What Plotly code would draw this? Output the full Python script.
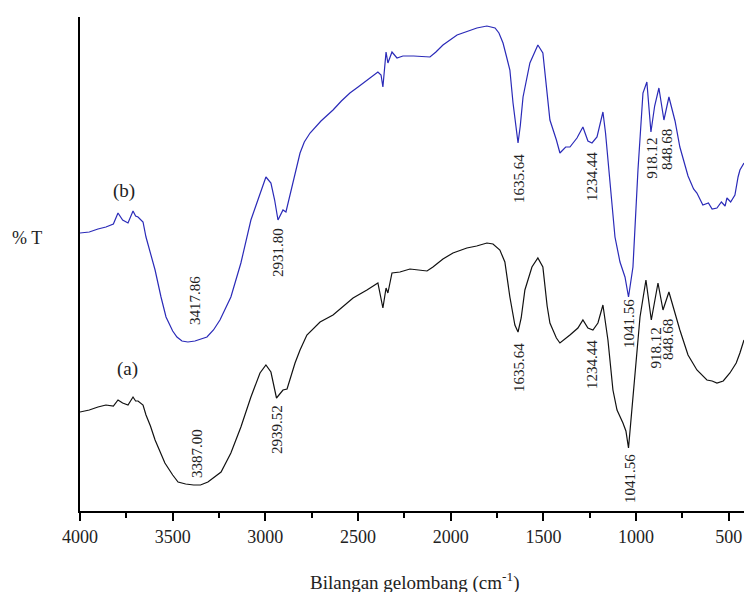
import plotly.graph_objects as go

# ---- data (wavenumber cm^-1, %T arbitrary) ----
wn_b = [4000, 3950, 3903, 3860, 3820, 3795, 3770, 3741, 3714, 3700, 3687, 3660, 3644, 3620,
        3595, 3563, 3536, 3500, 3477, 3450, 3418, 3380, 3340, 3315, 3280,
        3245, 3186, 3132, 3078, 3029, 2997, 2970, 2950, 2932, 2905, 2889, 2862, 2835, 2813, 2790,
        2759, 2700, 2635, 2590, 2544, 2500, 2452, 2393, 2376, 2366, 2349, 2339, 2317, 2290, 2258,
        2200, 2112, 2080, 2042, 2000, 1966, 1920,
        1859, 1805, 1761, 1740, 1718, 1700, 1681, 1664, 1637, 1625, 1610, 1573, 1530, 1503, 1480,
        1465, 1430, 1411, 1380, 1357,
        1319, 1287, 1260, 1238, 1211, 1179, 1165, 1152, 1130, 1114, 1087, 1060, 1041, 1017, 990,
        963, 942, 920, 900, 877, 850, 823, 790, 764, 720, 690, 672, 640, 610, 590, 564, 540, 520,
        510, 490, 467, 450, 440, 418]
t_b = [55.6, 55.8, 56.4, 56.8, 57.4, 59.6, 58.2, 57.6, 60.0, 59.0, 58.8, 57.8, 54.8, 51.8,
       48.2, 42.8, 38.8, 36.0, 34.8, 34.0, 33.8, 34.0, 34.4, 34.8, 36.2,
       38.2, 42.8, 49.6, 58.2, 63.6, 66.8, 65.6, 62.2, 58.2, 60.2, 59.8, 64.2, 68.2, 71.6, 73.8,
       75.6, 78.0, 80.2, 82.0, 83.6, 84.8, 86.2, 87.8, 87.2, 84.8, 91.8, 89.6, 91.8, 90.6, 91.0,
       91.0, 90.8, 91.8, 93.2, 94.4, 95.2, 95.8,
       96.6, 97.0, 96.6, 95.6, 93.6, 91.0, 88.2, 81.6, 73.6, 77.0, 82.8, 89.6, 93.2, 91.6, 84.0,
       78.2, 74.2, 71.6, 72.8, 72.8,
       74.6, 76.8, 74.0, 73.6, 74.8, 79.8, 75.6, 70.2, 62.0, 54.8, 49.8, 46.8, 42.8, 48.8, 68.2,
       83.6, 85.8, 75.8, 81.0, 84.6, 78.2, 82.8, 78.0, 72.8, 67.0, 64.4, 63.6, 61.2, 61.6, 60.4,
       60.6, 61.8, 61.0, 62.6, 61.8, 63.2, 66.8, 68.2, 69.6]

wn_a = [4000, 3950, 3903, 3860, 3820, 3795, 3770, 3741, 3714, 3700, 3687, 3660, 3644, 3620,
        3595, 3542, 3500, 3471, 3430, 3387, 3350, 3310, 3239,
        3186, 3132, 3078, 3029, 2997, 2970, 2955, 2940, 2905, 2883, 2840, 2813, 2776, 2705, 2635,
        2580, 2527, 2452, 2393, 2366, 2349, 2339, 2317, 2274, 2220, 2128, 2096, 2042, 1988, 1913,
        1860, 1805, 1772, 1735, 1708, 1681, 1654, 1637, 1620, 1600, 1562, 1530, 1503, 1480, 1465,
        1430, 1411, 1357,
        1314, 1287, 1260, 1233, 1206, 1179, 1165, 1152, 1125, 1103, 1071, 1055, 1041, 1017, 979,
        947, 918, 882, 855, 823, 790, 764, 720, 672, 618, 590, 564, 530, 494, 460, 440, 418]
t_a = [19.8, 20.2, 20.8, 21.2, 21.0, 22.2, 21.6, 21.2, 22.8, 22.0, 22.0, 21.2, 19.2, 17.0,
       14.2, 9.6, 7.2, 5.8, 5.4, 5.2, 5.2, 5.8, 7.8,
       11.6, 16.8, 22.8, 27.6, 29.2, 27.8, 25.2, 22.6, 24.2, 24.4, 29.6, 32.2, 35.2, 37.8, 39.2,
       41.0, 42.6, 44.2, 45.6, 40.6, 44.6, 43.6, 47.6, 47.8, 48.4, 48.0, 48.8, 50.4, 51.6, 52.6,
       53.0, 53.6, 53.4, 52.2, 49.8, 42.8, 37.2, 35.8, 38.6, 44.2, 48.8, 50.6, 48.8, 41.0, 37.6,
       34.6, 33.6, 35.2,
       36.6, 38.2, 36.6, 36.2, 37.6, 41.2, 37.6, 34.2, 24.2, 20.2, 17.6, 16.0, 12.6, 22.2, 38.8,
       46.2, 38.2, 45.6, 40.2, 43.8, 39.6, 36.2, 31.2, 28.2, 26.2, 26.0, 25.6, 26.0, 27.6, 29.6,
       31.6, 34.2]

peak_labels_b = ["3417.86", "2931.80", "1635.64", "1234.44", "1041.56", "918.12", "848.68"]
peak_labels_a = ["3387.00", "2939.52", "1635.64", "1234.44", "1041.56", "918.12", "848.68"]

# label centre positions (x in cm^-1, y in %T units)
pos_b_x = [3380, 2932, 1632, 1238, 1039, 915, 834]
pos_b_y = [42.2, 51.8, 66.6, 66.8, 37.6, 70.6, 72.4]
pos_a_x = [3369, 2937, 1632, 1238, 1033, 895, 828]
pos_a_y = [11.6, 16.2, 28.8, 29.2, 6.4, 32.6, 34.2]

tick_vals = [4000, 3500, 3000, 2500, 2000, 1500, 1000, 500]
tick_text = ["4000", "3500", "3000", "2500", "2000", "1500", "1000", "500"]

FONT = "Liberation Serif"

fig = go.Figure()
fig.add_trace(go.Scatter(x=wn_b, y=t_b, mode="lines",
                         line=dict(color="#2a2ab8", width=1.2), showlegend=False))
fig.add_trace(go.Scatter(x=wn_a, y=t_a, mode="lines",
                         line=dict(color="#111111", width=1.2), showlegend=False))

ann = []
for txt, x, y in zip(peak_labels_b, pos_b_x, pos_b_y):
    ann.append(dict(x=x, y=y, text=txt, showarrow=False, textangle=-90,
                    font=dict(family=FONT, size=15, color="#222222"),
                    xanchor="center", yanchor="middle"))
for txt, x, y in zip(peak_labels_a, pos_a_x, pos_a_y):
    ann.append(dict(x=x, y=y, text=txt, showarrow=False, textangle=-90,
                    font=dict(family=FONT, size=15, color="#222222"),
                    xanchor="center", yanchor="middle"))
ann.append(dict(x=3763, y=64.0, text="(b)", showarrow=False,
                font=dict(family=FONT, size=19, color="#222222")))
ann.append(dict(x=3746, y=28.4, text="(a)", showarrow=False,
                font=dict(family=FONT, size=19, color="#222222")))
ann.append(dict(xref="paper", yref="paper", x=-0.08, y=0.553, text="% T", showarrow=False,
                xanchor="center", yanchor="middle",
                font=dict(family=FONT, size=18, color="#222222")))
ann.append(dict(xref="paper", yref="paper", x=0.5045, y=-0.142,
                xanchor="center", yanchor="middle",
                text="Bilangan gelombang (cm<sup>-1</sup>)", showarrow=False,
                font=dict(family=FONT, size=19, color="#222222")))

fig.update_layout(
    width=744, height=592,
    margin=dict(l=80, r=0, t=17, b=81, autoexpand=False),
    paper_bgcolor="white", plot_bgcolor="white",
    annotations=ann,
    hovermode=False,
    xaxis=dict(range=[4000, 418], showgrid=False, zeroline=False, automargin=False,
               showline=True, linecolor="black", linewidth=2,
               tickmode="array", tickvals=tick_vals, ticktext=tick_text,
               ticks="outside", ticklen=8, tickwidth=2, tickcolor="black",
               tickfont=dict(family=FONT, size=18, color="#222222"),
               minor=dict(dtick=250, tick0=0, ticks="outside", ticklen=5,
                          tickwidth=2, tickcolor="black")),
    yaxis=dict(range=[0, 98.8], showgrid=False, zeroline=False, automargin=False,
               showline=True, linecolor="black", linewidth=2,
               showticklabels=False, ticks=""),
)

# remove the default 8px page margin so the 744x592 figure fills the window exactly
fig.write_html("out.html",
               config={"displayModeBar": False, "staticPlot": True},
               post_script="document.body.style.margin='0';document.body.style.overflow='hidden';")
